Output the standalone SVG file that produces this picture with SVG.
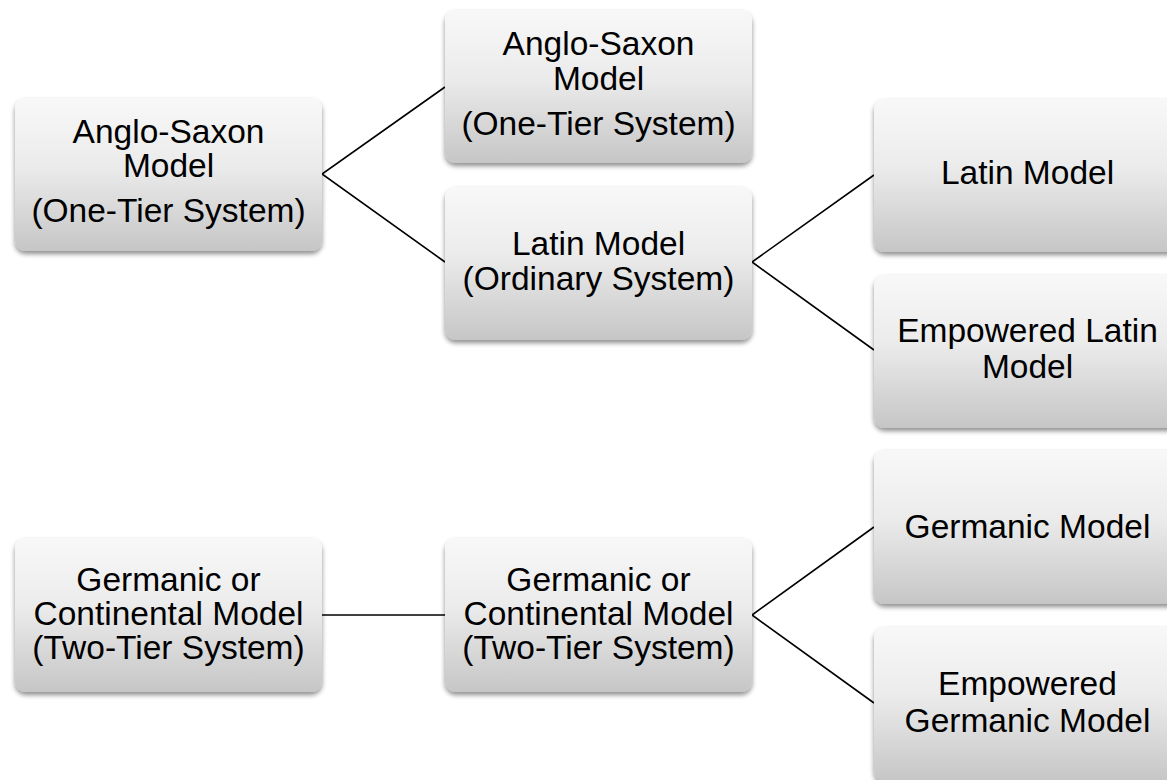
<svg xmlns="http://www.w3.org/2000/svg" width="1167" height="780" viewBox="0 0 1167 780">
<defs>
<linearGradient id="g" x1="0" y1="0" x2="0" y2="1">
<stop offset="0" stop-color="#f8f8f8"/>
<stop offset="0.45" stop-color="#ebebeb"/>
<stop offset="1" stop-color="#c6c6c6"/>
</linearGradient>
<filter id="sh" x="-10%" y="-10%" width="120%" height="130%">
<feGaussianBlur in="SourceAlpha" stdDeviation="2.5"/>
<feOffset dx="0" dy="3" result="b"/>
<feComponentTransfer><feFuncA type="linear" slope="0.45"/></feComponentTransfer>
<feMerge><feMergeNode/><feMergeNode in="SourceGraphic"/></feMerge>
</filter>
<style>
.box{fill:url(#g);filter:url(#sh);}
.t{font-family:"Liberation Sans",Arial,sans-serif;font-size:33.5px;fill:#000;text-anchor:middle;}
.c{stroke:#000;stroke-width:1.6;fill:none;}
</style>
</defs>
<rect width="1167" height="780" fill="#fff"/>
<g id="connectors">
<polyline class="c" points="445,87 322,174 445,262"/>
<polyline class="c" points="874,175 752,262 874,350"/>
<line class="c" x1="322" y1="615" x2="445" y2="615"/>
<polyline class="c" points="874,527 752,615 874,703"/>
</g>
<g id="n1">
<rect class="box" x="15" y="98" width="307" height="153" rx="11"/>
<text class="t" x="168.5" y="143">Anglo-Saxon</text>
<text class="t" x="168.5" y="177">Model</text>
<text class="t" x="168.5" y="222">(One-Tier System)</text>
</g>
<g id="n2">
<rect class="box" x="445" y="10" width="307" height="153" rx="11"/>
<text class="t" x="598.5" y="55">Anglo-Saxon</text>
<text class="t" x="598.5" y="89.5">Model</text>
<text class="t" x="598.5" y="135">(One-Tier System)</text>
</g>
<g id="n3">
<rect class="box" x="445" y="187" width="307" height="153" rx="11"/>
<text class="t" x="598.5" y="255">Latin Model</text>
<text class="t" x="598.5" y="290">(Ordinary System)</text>
</g>
<g id="n4">
<rect class="box" x="874" y="99" width="307" height="153" rx="11"/>
<text class="t" x="1027.5" y="184">Latin Model</text>
</g>
<g id="n5">
<rect class="box" x="874" y="275" width="307" height="153" rx="11"/>
<text class="t" x="1027.5" y="342">Empowered Latin</text>
<text class="t" x="1027.5" y="378">Model</text>
</g>
<g id="n6">
<rect class="box" x="15" y="538" width="307" height="154" rx="11"/>
<text class="t" x="168.5" y="591">Germanic or</text>
<text class="t" x="168.5" y="625">Continental Model</text>
<text class="t" x="168.5" y="659">(Two-Tier System)</text>
</g>
<g id="n7">
<rect class="box" x="445" y="538" width="307" height="154" rx="11"/>
<text class="t" x="598.5" y="591">Germanic or</text>
<text class="t" x="598.5" y="625">Continental Model</text>
<text class="t" x="598.5" y="659">(Two-Tier System)</text>
</g>
<g id="n8">
<rect class="box" x="874" y="450" width="307" height="154" rx="11"/>
<text class="t" x="1027.5" y="538">Germanic Model</text>
</g>
<g id="n9">
<rect class="box" x="874" y="627" width="307" height="154" rx="11"/>
<text class="t" x="1027.5" y="695">Empowered</text>
<text class="t" x="1027.5" y="732">Germanic Model</text>
</g>
</svg>
